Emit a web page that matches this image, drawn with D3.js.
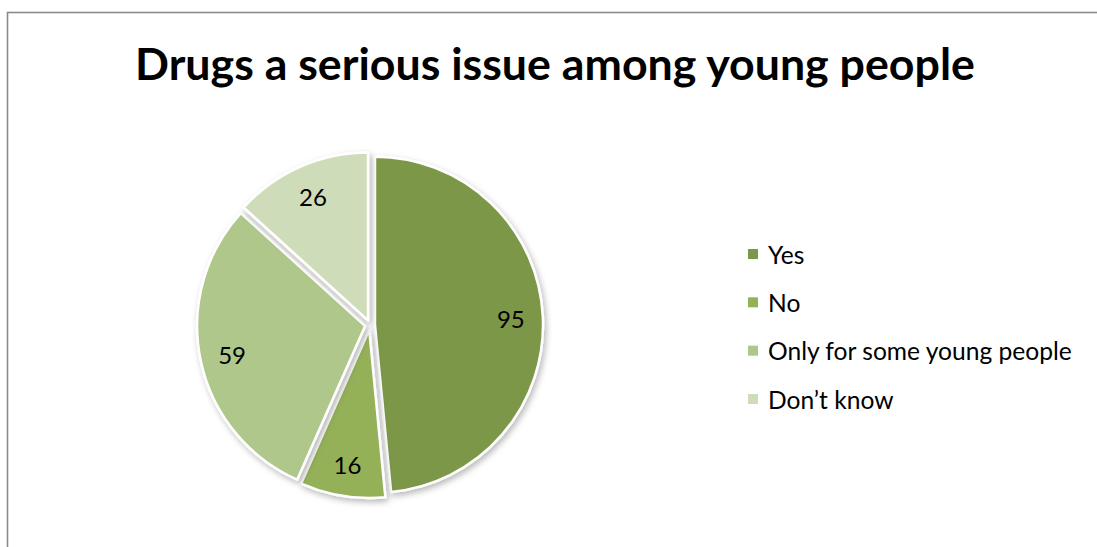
<!DOCTYPE html>
<html>
<head>
<meta charset="utf-8">
<script src="https://cdn.jsdelivr.net/npm/d3@7"></script>
<style>
  html, body { margin: 0; padding: 0; background: #fff; }
  svg { display: block; }
</style>
</head>
<body>
<svg id="chart" width="1097" height="547"></svg>
<script>
// Survey answers
const titleText = "Drugs a serious issue among young people";
const categories = ["Yes", "No", "Only for some young people", "Don\u2019t know"];
const counts = [95, 16, 59, 26];
const sliceColors = ["#7b9747", "#94b158", "#afc78a", "#cfdcb9"];

const W = 1097, H = 547;
const svg = d3.select("#chart");
const font = "Lato, 'Open Sans', 'DejaVu Sans', sans-serif";

// Outer chart frame (extends beyond the right and bottom edges)
svg.append("rect")
  .attr("x", 7.5).attr("y", 12.5)
  .attr("width", 1200).attr("height", 700)
  .attr("fill", "#fff")
  .attr("stroke", "#8a8a8a")
  .attr("stroke-width", 1.6);

// Soft shadow for the slices
const defs = svg.append("defs");
const f = defs.append("filter").attr("id", "shadow")
  .attr("x", "-20%").attr("y", "-20%").attr("width", "140%").attr("height", "140%");
f.append("feDropShadow")
  .attr("dx", 2).attr("dy", 3).attr("stdDeviation", 3)
  .attr("flood-color", "#000").attr("flood-opacity", 0.28);

// Title, fitted to its width
const title = svg.append("text")
  .attr("x", 555).attr("y", 80)
  .attr("text-anchor", "middle")
  .attr("font-family", font)
  .attr("font-weight", 700)
  .attr("font-size", 40)
  .attr("fill", "#000")
  .text(titleText);
const tw = title.node().getComputedTextLength();
title.attr("font-size", 40 * 840 / tw);

// Pie
const cx = 370, cy = 325, R = 168, explode = 5;
const pie = d3.pie().sort(null).value(d => d)(counts);
const arc = d3.arc().innerRadius(0).outerRadius(R);
const labelArc = d3.arc().innerRadius(136).outerRadius(136);

const g = svg.append("g").attr("transform", `translate(${cx},${cy})`);
const slices = g.selectAll("g.slice").data(pie).join("g")
  .attr("class", "slice")
  .attr("transform", d => {
    const a = (d.startAngle + d.endAngle) / 2;
    return `translate(${explode * Math.sin(a)},${-explode * Math.cos(a)})`;
  });

slices.append("path")
  .attr("d", arc)
  .attr("fill", (d, i) => sliceColors[i])
  .attr("stroke", "#fff")
  .attr("stroke-width", 2.5)
  .attr("stroke-linejoin", "round")
  .attr("filter", "url(#shadow)");

slices.append("text")
  .attr("transform", d => `translate(${labelArc.centroid(d)})`)
  .attr("text-anchor", "middle")
  .attr("dominant-baseline", "central")
  .attr("font-family", font)
  .attr("font-size", 24)
  .attr("fill", "#000")
  .text(d => d.data);

// Legend
const legendY = d3.scalePoint().domain(categories).range([254, 399]);
const lg = svg.append("g");
const items = lg.selectAll("g").data(categories).join("g")
  .attr("transform", d => `translate(748,${legendY(d)})`);
items.append("rect")
  .attr("x", 0).attr("y", -5)
  .attr("width", 10).attr("height", 10)
  .attr("fill", (d, i) => sliceColors[i]);
items.append("text")
  .attr("x", 20).attr("y", 0)
  .attr("dominant-baseline", "central")
  .attr("font-family", font)
  .attr("font-size", 20)
  .attr("fill", "#000")
  .text(d => d);
// fit legend text width
const longest = items.filter((d, i) => i === 2).select("text").node().getComputedTextLength();
items.selectAll("text").attr("font-size", 20 * 304 / longest);
</script>
</body>
</html>
